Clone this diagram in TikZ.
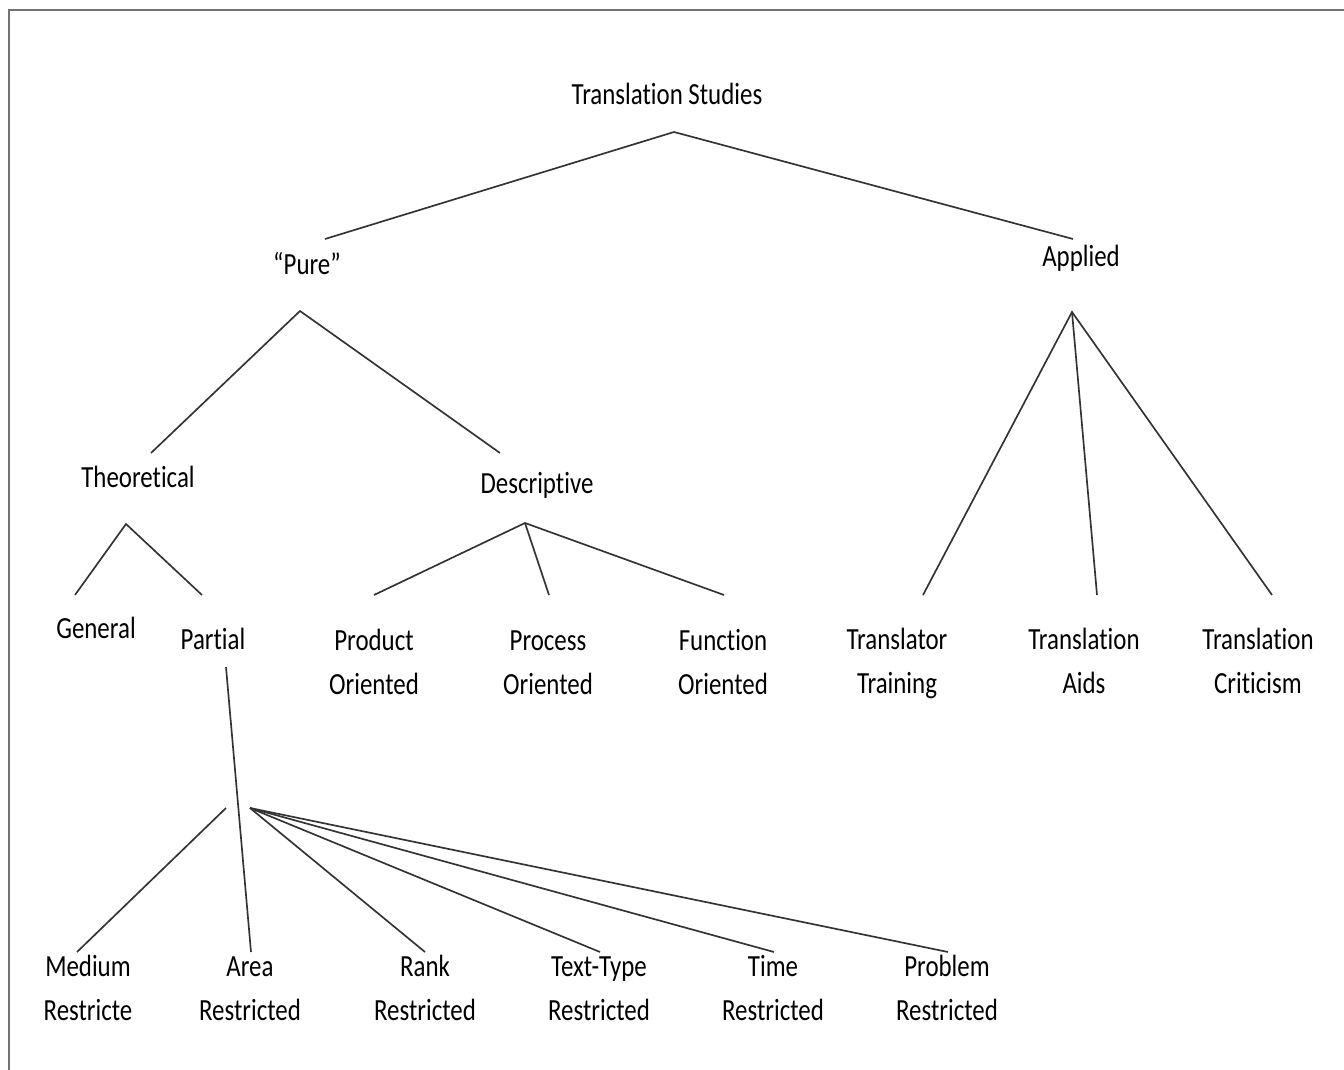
\documentclass[tikz,border=0pt]{standalone}
\usepackage{fontspec}
\setmainfont{Carlito}[Ligatures=NoCommon]
\usepackage{tikz}

\begin{document}
\begin{tikzpicture}[x=0.02cm,y=-0.02cm,
  lbl/.style={font=\fontsize{17.5}{25}\selectfont,align=center,inner sep=0pt,anchor=base,text=black,xscale=0.81,transform shape},
  branch/.style={line width=0.95pt,black!80}]
\useasboundingbox (0,0) rectangle (1344,1070);
\draw[line width=1.3pt,black!55] (9,1080) -- (9,10) -- (1360,10);
% labels
\node[lbl] (studies) at (667,105) {Translation Studies};
\node[lbl] (pure) at (307,275) {“Pure”};
\node[lbl] (applied) at (1081,267) {Applied};
\node[lbl] (theoretical) at (138,487) {Theoretical};
\node[lbl] (descriptive) at (537,494) {Descriptive};
\node[lbl] (general) at (96,638) {General};
\node[lbl] (partial) at (213,649) {Partial};
\node[lbl] (product) at (374,694) {Product\\Oriented};
\node[lbl] (process) at (548,694) {Process\\Oriented};
\node[lbl] (function) at (723,694) {Function\\Oriented};
\node[lbl] (training) at (897,693) {Translator\\Training};
\node[lbl] (aids) at (1084,693) {Translation\\Aids};
\node[lbl] (criticism) at (1258,693) {Translation\\Criticism};
\node[lbl] (medium) at (88,1020) {Medium\\Restricte};
\node[lbl] (area) at (250,1020) {Area\\Restricted};
\node[lbl] (rank) at (425,1020) {Rank\\Restricted};
\node[lbl] (texttype) at (599,1020) {Text-Type\\Restricted};
\node[lbl] (time) at (773,1020) {Time\\Restricted};
\node[lbl] (problem) at (947,1020) {Problem\\Restricted};
% line ends
\coordinate (studies-foot) at (674,132);
\coordinate (pure-head) at (325,239);
\coordinate (applied-head) at (1073,239);
\coordinate (pure-foot) at (300,311);
\coordinate (theoretical-head) at (151,453);
\coordinate (descriptive-head) at (500,453);
\coordinate (theoretical-foot) at (126,524);
\coordinate (general-head) at (75,595);
\coordinate (partial-head) at (202,595);
\coordinate (descriptive-foot) at (525,523);
\coordinate (product-head) at (374,595);
\coordinate (process-head) at (549,595);
\coordinate (function-head) at (724,595);
\coordinate (applied-foot) at (1072,312);
\coordinate (training-head) at (923,595);
\coordinate (aids-head) at (1097,595);
\coordinate (criticism-head) at (1272,595);
\coordinate (partial-foot) at (226,667);
\coordinate (medium-fork) at (226,808);
\coordinate (restricted-fork) at (250,808);
\coordinate (medium-head) at (77,952);
\coordinate (area-head) at (251,952);
\coordinate (rank-head) at (425,952);
\coordinate (texttype-head) at (600,952);
\coordinate (time-head) at (774,952);
\coordinate (problem-head) at (948,952);
% branches
\draw[branch] (pure-head) -- (studies-foot) -- (applied-head);
\draw[branch] (theoretical-head) -- (pure-foot) -- (descriptive-head);
\draw[branch] (general-head) -- (theoretical-foot) -- (partial-head);
\draw[branch] (product-head) -- (descriptive-foot) -- (function-head);
\draw[branch] (descriptive-foot) -- (process-head);
\draw[branch] (training-head) -- (applied-foot) -- (criticism-head);
\draw[branch] (applied-foot) -- (aids-head);
\draw[branch] (partial-foot) -- (area-head);
\draw[branch] (medium-fork) -- (medium-head);
\draw[branch] (restricted-fork) -- (rank-head);
\draw[branch] (restricted-fork) -- (texttype-head);
\draw[branch] (restricted-fork) -- (time-head);
\draw[branch] (restricted-fork) -- (problem-head);
\end{tikzpicture}
\end{document}
